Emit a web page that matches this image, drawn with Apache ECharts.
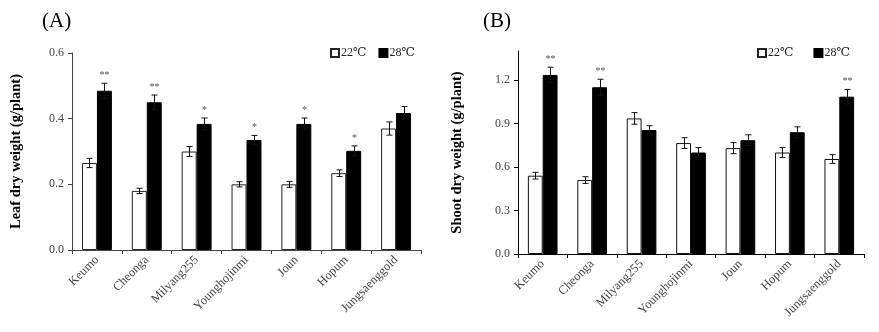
<!DOCTYPE html>
<html>
<head>
<meta charset="utf-8">
<script src="https://cdn.jsdelivr.net/npm/echarts@6/dist/echarts.min.js"></script>
<style>html,body{margin:0;padding:0;background:#fff}#c{width:879px;height:332px}</style>
</head>
<body>
<div id="c"></div>
<script>
const categories = ['Keumo','Cheonga','Milyang255','Younghojinmi','Joun','Hopum','Jungsaenggold'];
const seriesNames = ['22\u2103','28\u2103'];
const leaf22 = [0.265,0.18,0.30,0.20,0.20,0.234,0.37];
const leaf22Err = [0.014,0.008,0.015,0.008,0.009,0.010,0.020];
const leaf28 = [0.485,0.45,0.384,0.335,0.384,0.302,0.417];
const leaf28Err = [0.023,0.022,0.018,0.014,0.018,0.015,0.020];
const leafSig = ['**','**','*','*','*','*',''];
const shoot22 = [0.54,0.51,0.935,0.765,0.73,0.70,0.655];
const shoot22Err = [0.023,0.023,0.040,0.037,0.038,0.035,0.030];
const shoot28 = [1.235,1.15,0.855,0.70,0.785,0.84,1.085];
const shoot28Err = [0.053,0.055,0.030,0.034,0.037,0.037,0.050];
const shootSig = ['**','**','','','','','**'];
const leafTicks = [0,0.2,0.4,0.6];
const shootTicks = [0,0.3,0.6,0.9,1.2];

const FONT = '"Liberation Serif","DejaVu Serif",serif';
const BAR_FRAC = 0.3;

function errRender(sideSign, sig) {
  return function (params, api) {
    const i = api.value(0), v = api.value(1), e = api.value(2);
    const catW = api.size([1, 0])[0];
    const off = sideSign * catW * BAR_FRAC / 2;
    const top = api.coord([i, v + e]);
    const bot = api.coord([i, v - e]);
    const x = Math.round(top[0] + off) + 0.5;
    const cap = 3;
    const st = { stroke: '#111', lineWidth: 1 };
    const children = [
      { type: 'line', shape: { x1: x, y1: top[1], x2: x, y2: bot[1] }, style: st },
      { type: 'line', shape: { x1: x - cap, y1: top[1], x2: x + cap, y2: top[1] }, style: st },
      { type: 'line', shape: { x1: x - cap, y1: bot[1], x2: x + cap, y2: bot[1] }, style: st }
    ];
    const s = sig ? sig[params.dataIndex] : '';
    if (s) {
      children.push({ type: 'text', x: x, y: top[1] - 3,
        style: { text: s, align: 'center', verticalAlign: 'bottom', fontSize: 10, fill: '#555', fontFamily: FONT } });
    }
    return { type: 'group', children: children };
  };
}

function errData(vals, errs) {
  return vals.map((v, i) => [i, v, errs[i]]);
}

function xAx(gi, col) {
  return {
    type: 'category', gridIndex: gi, data: categories,
    axisLine: { lineStyle: { color: col, width: 1 } },
    axisTick: { show: true, alignWithLabel: false, length: 4, lineStyle: { color: col } },
    axisLabel: { rotate: 45, interval: 0, fontSize: 12.5, color: '#444', fontFamily: FONT, margin: 8, padding: [10, 0, 0, 0] },
    splitLine: { show: false }
  };
}

const option = {
  animation: false,
  backgroundColor: '#fff',
  title: [
    { text: '(A)', left: 37, top: 6, textStyle: { fontSize: 21, fontWeight: 'normal', fontFamily: FONT, color: '#000' } },
    { text: '(B)', left: 478, top: 6, textStyle: { fontSize: 21, fontWeight: 'normal', fontFamily: FONT, color: '#000' } }
  ],
  legend: [
    { data: seriesNames, left: 325, top: 42, icon: 'rect', itemWidth: 8, itemHeight: 8, itemGap: 12,
      textStyle: { fontSize: 12, fontFamily: FONT, color: '#222', padding: [0, 0, 0, -3] } },
    { data: seriesNames, left: 752, top: 42, icon: 'rect', itemWidth: 8, itemHeight: 8, itemGap: 20,
      textStyle: { fontSize: 12, fontFamily: FONT, color: '#222', padding: [0, 0, 0, -3] } }
  ],
  grid: [
    { left: 72, top: 53, width: 349, height: 197 },
    { left: 518, top: 51, width: 346, height: 203 }
  ],
  xAxis: [xAx(0, '#444'), xAx(1, '#000')],
  yAxis: [
    {
      type: 'value', gridIndex: 0, min: 0, max: 0.6, interval: 0.2,
      name: 'Leaf dry weight (g/plant)', nameLocation: 'middle', nameGap: 48, nameRotate: 90,
      nameTextStyle: { fontSize: 14.5, fontWeight: 'bold', fontFamily: FONT, color: '#000' },
      axisLine: { show: true, lineStyle: { color: '#444' } },
      axisTick: { show: true, length: 4, lineStyle: { color: '#444' } },
      axisLabel: { fontSize: 12, color: '#444', fontFamily: FONT, margin: 8, formatter: v => v.toFixed(1) },
      splitLine: { show: false }
    },
    {
      type: 'value', gridIndex: 1, min: 0, max: 1.4, interval: 0.3,
      name: 'Shoot dry weight (g/plant)', nameLocation: 'middle', nameGap: 53, nameRotate: 90,
      nameTextStyle: { fontSize: 14.5, fontWeight: 'bold', fontFamily: FONT, color: '#000' },
      axisLine: { show: true, lineStyle: { color: '#000' } },
      axisTick: { show: true, length: 4, lineStyle: { color: '#000' }, customValues: shootTicks },
      axisLabel: { fontSize: 12, color: '#444', fontFamily: FONT, margin: 8, customValues: shootTicks, formatter: v => v.toFixed(1) },
      splitLine: { show: false }
    }
  ],
  series: [
    { name: seriesNames[0], type: 'bar', xAxisIndex: 0, yAxisIndex: 0, data: leaf22, barWidth: '30%', barGap: '0%',
      itemStyle: { color: '#fff', borderColor: '#222', borderWidth: 1 } },
    { name: seriesNames[1], type: 'bar', xAxisIndex: 0, yAxisIndex: 0, data: leaf28, barWidth: '30%', barGap: '0%',
      itemStyle: { color: '#000', borderColor: '#000', borderWidth: 1 } },
    { name: seriesNames[0], type: 'bar', xAxisIndex: 1, yAxisIndex: 1, data: shoot22, barWidth: '30%', barGap: '0%',
      itemStyle: { color: '#fff', borderColor: '#111', borderWidth: 1 } },
    { name: seriesNames[1], type: 'bar', xAxisIndex: 1, yAxisIndex: 1, data: shoot28, barWidth: '30%', barGap: '0%',
      itemStyle: { color: '#000', borderColor: '#000', borderWidth: 1 } },
    { type: 'custom', xAxisIndex: 0, yAxisIndex: 0, renderItem: errRender(-1, null), data: errData(leaf22, leaf22Err), z: 10, silent: true },
    { type: 'custom', xAxisIndex: 0, yAxisIndex: 0, renderItem: errRender(1, leafSig), data: errData(leaf28, leaf28Err), z: 10, silent: true },
    { type: 'custom', xAxisIndex: 1, yAxisIndex: 1, renderItem: errRender(-1, null), data: errData(shoot22, shoot22Err), z: 10, silent: true },
    { type: 'custom', xAxisIndex: 1, yAxisIndex: 1, renderItem: errRender(1, shootSig), data: errData(shoot28, shoot28Err), z: 10, silent: true }
  ]
};

const chart = echarts.init(document.getElementById('c'), null, { renderer: 'canvas' });
chart.setOption(option);
</script>
</body>
</html>
